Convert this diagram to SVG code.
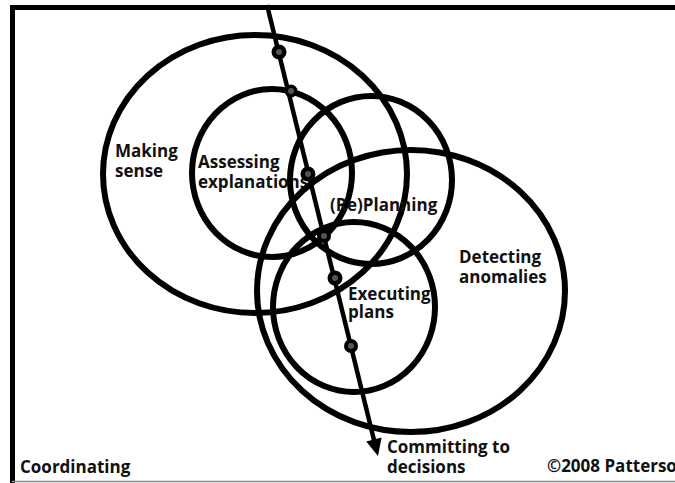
<svg xmlns="http://www.w3.org/2000/svg" width="675" height="483" viewBox="0 0 675 483">
  <style>
    .ring { fill: none; stroke: #000; stroke-width: 6; }
    .label { font-family: "Open Sans", "Liberation Sans", sans-serif; font-weight: bold; font-size: 17px; fill: #111; font-variant-ligatures: none; }
    .flow { fill: none; stroke: #000; stroke-width: 4.5; }
    .dot { fill: #000; }
    .dot-core { fill: #555; }
  </style>

  <rect x="0" y="0" width="675" height="483" fill="#fff"/>

  <!-- frame: heavy top and left edges, thin rule along the bottom -->
  <g id="frame">
    <path d="M12.5,483 V7.5 H680" fill="none" stroke="#000" stroke-width="5"/>
    <line x1="12" y1="481.5" x2="675" y2="481.5" stroke="#888" stroke-width="1.5"/>
  </g>

  <g id="making-sense">
    <ellipse class="ring" cx="255" cy="174" rx="152" ry="139"/>
    <text class="label" x="115" y="157">Making</text>
    <text class="label" x="115" y="177">sense</text>
  </g>

  <g id="assessing-explanations">
    <ellipse class="ring" cx="272" cy="173" rx="80" ry="84"/>
    <text class="label" x="198" y="168">Assessing</text>
    <text class="label" x="198" y="188">explanations</text>
  </g>

  <g id="replanning">
    <ellipse class="ring" cx="371" cy="180" rx="81" ry="84"/>
    <text class="label" x="330" y="211">(Re)Planning</text>
  </g>

  <g id="detecting-anomalies">
    <ellipse class="ring" cx="411" cy="291" rx="154" ry="141"/>
    <text class="label" x="459" y="263">Detecting</text>
    <text class="label" x="459" y="283">anomalies</text>
  </g>

  <g id="executing-plans">
    <ellipse class="ring" cx="354" cy="307" rx="81" ry="85"/>
    <text class="label" x="348" y="300">Executing</text>
    <text class="label" x="348" y="318">plans</text>
  </g>

  <g id="connectors">
    <line class="flow" x1="267" y1="5" x2="374" y2="440"/>
    <path d="M378,456 L381.6,437.5 L366.2,441.5 Z" fill="#000"/>
    <g id="decision-points">
      <circle class="dot" cx="279" cy="52" r="7.5"/><circle class="dot-core" cx="279" cy="52" r="3"/>
      <circle class="dot" cx="291" cy="91" r="6.5"/><circle class="dot-core" cx="291" cy="91" r="3"/>
      <circle class="dot" cx="308" cy="174" r="7.5"/><circle class="dot-core" cx="308" cy="174" r="3"/>
      <circle class="dot" cx="324" cy="236" r="7"/><circle class="dot-core" cx="324" cy="236" r="3"/>
      <circle class="dot" cx="335" cy="278" r="7.5"/><circle class="dot-core" cx="335" cy="278" r="3"/>
      <circle class="dot" cx="351" cy="346" r="7"/><circle class="dot-core" cx="351" cy="346" r="3"/>
    </g>
  </g>

  <g id="committing-to-decisions">
    <text class="label" x="387" y="453">Committing to</text>
    <text class="label" x="387" y="473">decisions</text>
  </g>

  <g id="coordinating">
    <text class="label" x="20" y="473">Coordinating</text>
  </g>

  <g id="copyright">
    <text class="label" x="547" y="472">©2008 Patterson</text>
  </g>
</svg>
